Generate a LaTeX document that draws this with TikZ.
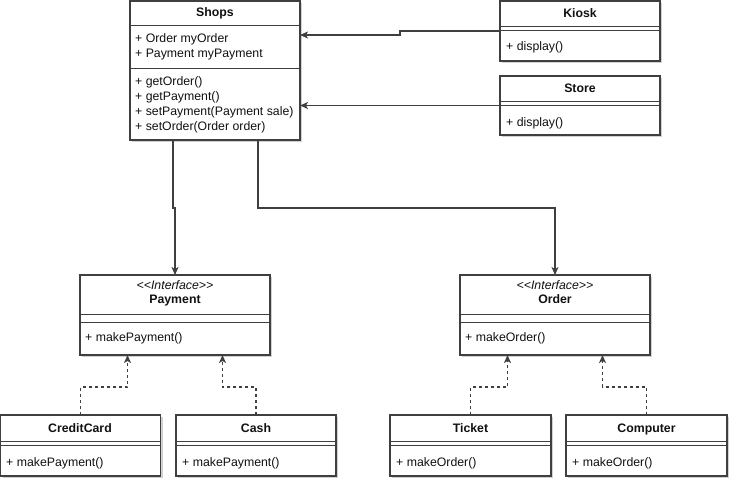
\documentclass[tikz,border=0pt]{standalone}
\usepackage{fontspec}
\setmainfont{Liberation Sans}
\usetikzlibrary{arrows.meta,shadows}
\definecolor{stroke}{HTML}{3F3F3F}
\definecolor{ink}{HTML}{111111}
\tikzset{
  x=1pt, y=-1pt,
  classbox/.style={draw=stroke, line width=1.1pt, fill=white, anchor=north west,
    inner sep=0pt, outer sep=0pt,
    drop shadow={shadow xshift=2pt, shadow yshift=-2pt, opacity=0.18, fill=black}},
  divider/.style={draw=stroke, line width=1pt},
  member/.style={anchor=west, inner sep=0pt, text height=9pt, text depth=3pt,
    font=\fontsize{12.3}{15}\selectfont, text=ink},
  classname/.style={anchor=center, inner sep=0pt, text height=9pt, text depth=3pt,
    font=\fontsize{12.3}{15}\selectfont\bfseries, text=ink},
  stereo/.style={anchor=center, inner sep=0pt, text height=9pt, text depth=3pt,
    font=\fontsize{12.3}{15}\selectfont\itshape, text=ink},
  assoc/.style={draw=stroke, line width=1.1pt, -{Stealth[length=8pt,width=7pt,inset=2pt]}},
  realize/.style={draw=stroke, line width=1.1pt, dash pattern=on 3pt off 3pt,
    -{Stealth[length=8pt,width=7pt,inset=2pt]}},
}
\begin{document}
\begin{tikzpicture}
\useasboundingbox (0,0) rectangle (738,490);

% ---------- Shops ----------
\node[classbox, minimum width=170pt, minimum height=139pt] (shops) at (130,1) {};
\draw[divider] (shops.west |- 0,25) -- (shops.east |- 0,25);
\draw[divider] (shops.west |- 0,68) -- (shops.east |- 0,68);
\node[classname] (shopsT) at (215,13) {Shops};
\node[member] (shopsF1) at (135,39) {+ Order myOrder};
\node[member] (shopsF2) at (135,54) {+ Payment myPayment};
\node[member] (shopsM1) at (135,82) {+ getOrder()};
\node[member] (shopsM2) at (135,97) {+ getPayment()};
\node[member] (shopsM3) at (135,112) {+ setPayment(Payment sale)};
\node[member] (shopsM4) at (135,127) {+ setOrder(Order order)};

% ---------- Kiosk ----------
\node[classbox, minimum width=160pt, minimum height=60pt] (kiosk) at (500,1) {};
\draw[divider] (kiosk.west |- 0,26) -- (kiosk.east |- 0,26);
\draw[divider] (kiosk.west |- 0,30) -- (kiosk.east |- 0,30);
\node[classname] (kioskT) at (580,14) {Kiosk};
\node[member] (kioskM1) at (506,47) {+ display()};

% ---------- Store ----------
\node[classbox, minimum width=160pt, minimum height=59pt] (store) at (500,76) {};
\draw[divider] (store.west |- 0,101) -- (store.east |- 0,101);
\draw[divider] (store.west |- 0,105) -- (store.east |- 0,105);
\node[classname] (storeT) at (580,89) {Store};
\node[member] (storeM1) at (506,123) {+ display()};

% ---------- Payment (interface) ----------
\node[classbox, minimum width=190pt, minimum height=80pt] (payment) at (80,275) {};
\draw[divider] (payment.west |- 0,314) -- (payment.east |- 0,314);
\draw[divider] (payment.west |- 0,322) -- (payment.east |- 0,322);
\node[stereo] (paymentS) at (175,286) {<{}<Interface>{}>};
\node[classname] (paymentT) at (175,300) {Payment};
\node[member] (paymentM1) at (85,338) {+ makePayment()};

% ---------- Order (interface) ----------
\node[classbox, minimum width=190pt, minimum height=80pt] (order) at (460,275) {};
\draw[divider] (order.west |- 0,314) -- (order.east |- 0,314);
\draw[divider] (order.west |- 0,322) -- (order.east |- 0,322);
\node[stereo] (orderS) at (555,286) {<{}<Interface>{}>};
\node[classname] (orderT) at (555,300) {Order};
\node[member] (orderM1) at (465,338) {+ makeOrder()};

% ---------- Payment implementations ----------
\node[classbox, minimum width=160pt, minimum height=61pt] (credit) at (0.6,415) {};
\draw[divider] (credit.west |- 0,441) -- (credit.east |- 0,441);
\draw[divider] (credit.west |- 0,445) -- (credit.east |- 0,445);
\node[classname] (creditT) at (80,429) {CreditCard};
\node[member] (creditM1) at (6,463) {+ makePayment()};

\node[classbox, minimum width=160pt, minimum height=61pt] (cash) at (176,415) {};
\draw[divider] (cash.west |- 0,441) -- (cash.east |- 0,441);
\draw[divider] (cash.west |- 0,445) -- (cash.east |- 0,445);
\node[classname] (cashT) at (256,429) {Cash};
\node[member] (cashM1) at (182,463) {+ makePayment()};

% ---------- Order implementations ----------
\node[classbox, minimum width=161pt, minimum height=61pt] (ticket) at (390,415) {};
\draw[divider] (ticket.west |- 0,441) -- (ticket.east |- 0,441);
\draw[divider] (ticket.west |- 0,445) -- (ticket.east |- 0,445);
\node[classname] (ticketT) at (470.5,429) {Ticket};
\node[member] (ticketM1) at (396,463) {+ makeOrder()};

\node[classbox, minimum width=161pt, minimum height=61pt] (computer) at (566,415) {};
\draw[divider] (computer.west |- 0,441) -- (computer.east |- 0,441);
\draw[divider] (computer.west |- 0,445) -- (computer.east |- 0,445);
\node[classname] (computerT) at (646.5,429) {Computer};
\node[member] (computerM1) at (572,463) {+ makeOrder()};

% ---------- associations ----------
\draw[assoc] (kiosk.west) -- (400,31) -- (400,35) -- (shops.east |- 0,35);
\draw[assoc] (store.west) -- (shops.east |- store.west);
\draw[assoc] (173,140) -- (173,208) -- (payment.north |- 0,208) -- (payment.north);
\draw[assoc] (258,140) -- (258,208) -- (order.north |- 0,208) -- (order.north);

% ---------- realizations ----------
\draw[realize] (credit.north) -- (credit.north |- 0,387) -- (127.5,387) -- (127.5,355);
\draw[realize] (cash.north) -- (cash.north |- 0,387) -- (222.5,387) -- (222.5,355);
\draw[realize] (ticket.north) -- (ticket.north |- 0,387) -- (507.5,387) -- (507.5,355);
\draw[realize] (computer.north) -- (computer.north |- 0,387) -- (602.5,387) -- (602.5,355);
\end{tikzpicture}
\end{document}
